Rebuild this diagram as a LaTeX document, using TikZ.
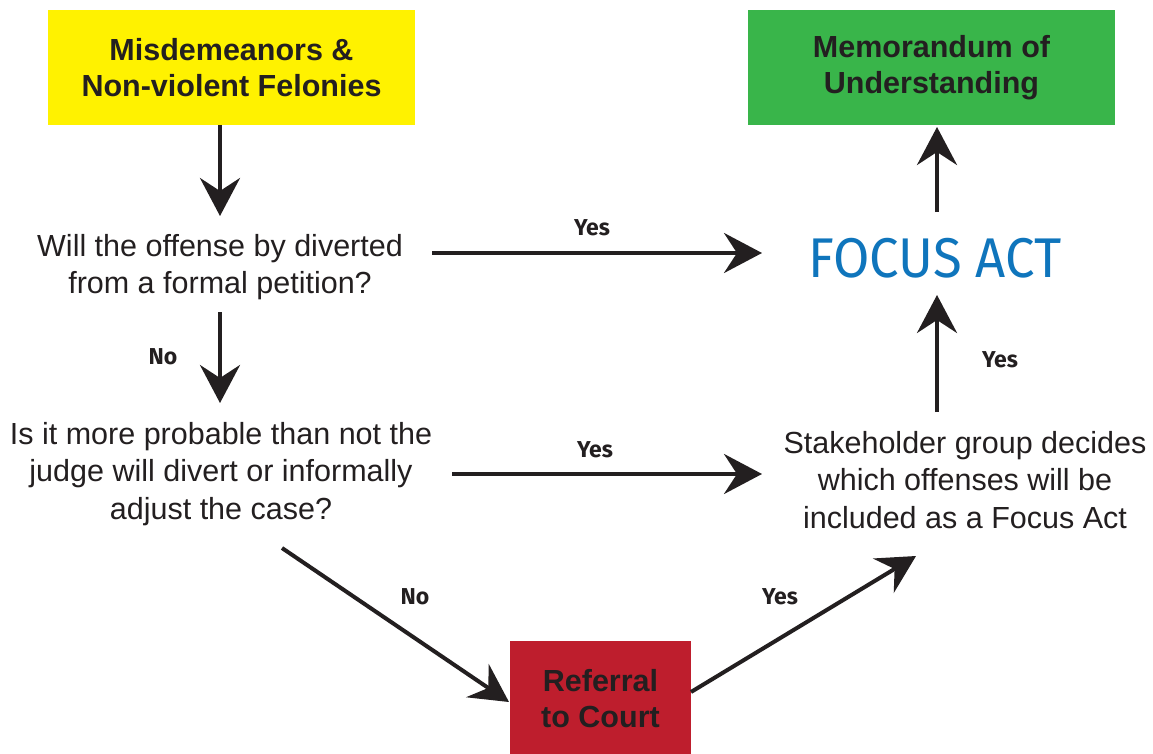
\documentclass[tikz,border=0pt]{standalone}
\usepackage{fontspec}
\setmainfont{Liberation Sans}
\newfontfamily\din{Fira Sans}
\usetikzlibrary{arrows.meta}
\definecolor{ink}{HTML}{231F20}
\definecolor{yel}{HTML}{FFF200}
\definecolor{grn}{HTML}{39B54A}
\definecolor{rd}{HTML}{BE1E2D}
\definecolor{blu}{HTML}{0F75BC}
\begin{document}
\begin{tikzpicture}[x=1pt,y=-1pt,
  conn/.style={line width=4pt, draw=ink, -{Stealth[length=38pt,width=40pt,inset=13pt]}},
  box/.style={text=ink, font=\fontsize{30.5}{36}\selectfont\bfseries, align=center, minimum width=367pt, minimum height=115pt, inner sep=0pt},
  q/.style={text=ink, font=\fontsize{30.5}{37.5}\selectfont, align=center},
  lab/.style={text=ink, font=\din\fontsize{23}{26}\selectfont\bfseries}]
\useasboundingbox[fill=white] (0,0) rectangle (1153,754);
\node[box, fill=yel] (mis) at (231.5,67.5) {Misdemeanors \&\\Non-violent Felonies};
\node[box, fill=grn] (mou) at (931.5,67.5) {Memorandum of\\Understanding};
\node[box, fill=rd, minimum width=181pt, minimum height=115pt] (ref) at (600.5,698.5) {Referral\\to Court};
\node[q] (q1) at (220,267) {Will the offense by diverted\\from a formal petition?};
\node[q] (q2) at (221,474) {Is it more probable than not the\\judge will divert or informally\\adjust the case?};
\node[q] (stake) at (965,480) {Stakeholder group decides\\which offenses will be\\included as a Focus Act};
\node[text=blu, font=\din\fontsize{56}{60}\selectfont, xscale=0.94] (focus) at (935,258) {FOCUS ACT};
% arrow endpoints
\coordinate (a1s) at (220,125); \coordinate (a1e) at (220,216);
\coordinate (a2s) at (220,312); \coordinate (a2e) at (220,403);
\coordinate (a3s) at (432,253); \coordinate (a3e) at (762,253);
\coordinate (a4s) at (452,474); \coordinate (a4e) at (762,474);
\coordinate (a5s) at (282,548); \coordinate (a5e) at (509,702);
\coordinate (a6s) at (691,692); \coordinate (a6e) at (916,556);
\coordinate (a7s) at (937,412); \coordinate (a7e) at (937,295);
\coordinate (a8s) at (937,212); \coordinate (a8e) at (937,127);
\draw[conn] (a1s) -- (a1e);
\draw[conn] (a2s) -- (a2e);
\draw[conn] (a3s) -- (a3e);
\draw[conn] (a4s) -- (a4e);
\draw[conn] (a5s) -- (a5e);
\draw[conn] (a6s) -- (a6e);
\draw[conn] (a7s) -- (a7e);
\draw[conn] (a8s) -- (a8e);
\node[lab] (l1) at (163,357) {No};
\node[lab] (l2) at (592,228) {Yes};
\node[lab] (l3) at (595,450) {Yes};
\node[lab] (l4) at (415,597) {No};
\node[lab] (l5) at (780,597) {Yes};
\node[lab] (l6) at (1000,360) {Yes};
\end{tikzpicture}
\end{document}
